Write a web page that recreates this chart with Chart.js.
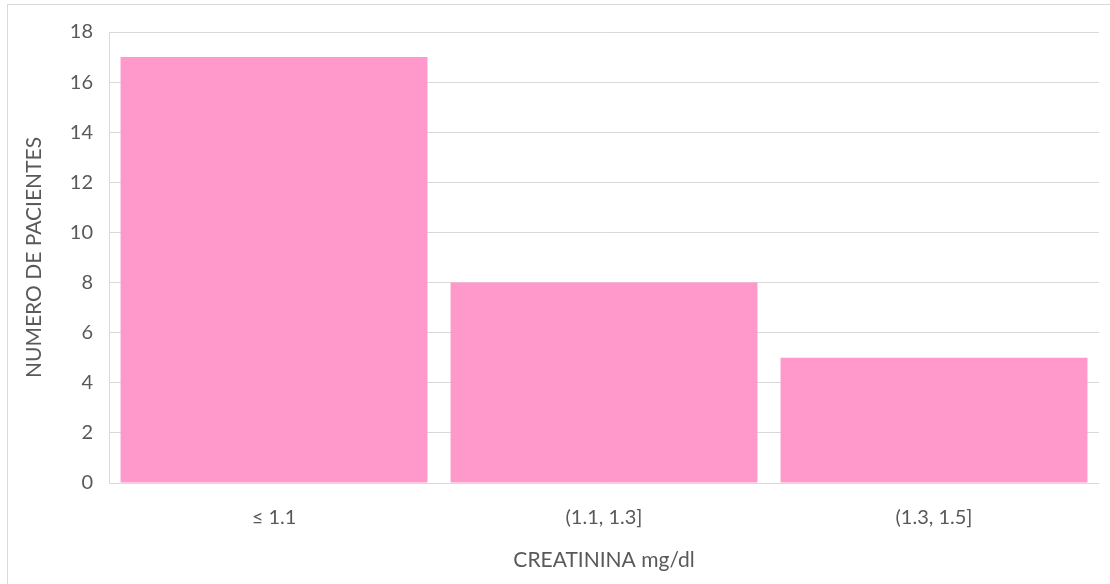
<!DOCTYPE html>
<html>
<head>
<meta charset="utf-8">
<script src="https://cdn.jsdelivr.net/npm/chart.js@4"></script>
<style>
  html, body { margin: 0; padding: 0; background: #fff; }
  #wrap { position: absolute; left: 0; top: 0; width: 1110px; height: 584px; }
  #frame { position: absolute; left: 7px; top: 4px; right: 0; bottom: 0;
           border-top: 1px solid #d9d9d9; border-left: 1px solid #d9d9d9; }
</style>
</head>
<body>
<div id="wrap">
  <div id="frame"></div>
  <canvas id="chart" width="1110" height="584"></canvas>
</div>
<script>
// Patients by creatinine range
const categories = ['≤ 1.1', '(1.1, 1.3]', '(1.3, 1.5]'];
const patients   = [17, 8, 5];
const yTicks     = [0, 2, 4, 6, 8, 10, 12, 14, 16, 18];

const GRID  = '#d9d9d9';
const TEXT  = '#595959';
const FONT  = "Lato, 'Open Sans', sans-serif";

new Chart(document.getElementById('chart').getContext('2d'), {
  type: 'bar',
  data: {
    labels: categories,
    datasets: [{
      data: patients,
      backgroundColor: '#ff99cc',
      borderWidth: 0,
      barPercentage: 0.93,
      categoryPercentage: 1.0
    }]
  },
  options: {
    responsive: false,
    animation: false,
    layout: { padding: { top: 32, right: 11, left: 0, bottom: 0 } },
    plugins: { legend: { display: false }, tooltip: { enabled: false } },
    scales: {
      x: {
        grid: { display: false, drawTicks: false },
        border: { display: false },
        ticks: { color: TEXT, font: { family: FONT, size: 20 }, padding: 23 },
        title: {
          display: true,
          text: 'CREATININA mg/dl',
          color: TEXT,
          font: { family: FONT, size: 21 },
          padding: { top: 0, bottom: 11 }
        },
        afterFit: s => { s.height = 101; }
      },
      y: {
        min: 0,
        max: 18,
        afterBuildTicks: s => { s.ticks = yTicks.map(v => ({ value: v })); },
        grid: { color: GRID, lineWidth: 1, drawTicks: false },
        border: { display: true, color: GRID },
        ticks: { color: TEXT, font: { family: FONT, size: 20 }, padding: 16 },
        title: {
          display: true,
          text: 'NUMERO DE PACIENTES',
          color: TEXT,
          font: { family: FONT, size: 21 },
          padding: { top: 22, bottom: 0 }
        },
        afterFit: s => { s.width = 109; }
      }
    }
  }
});
</script>
</body>
</html>
